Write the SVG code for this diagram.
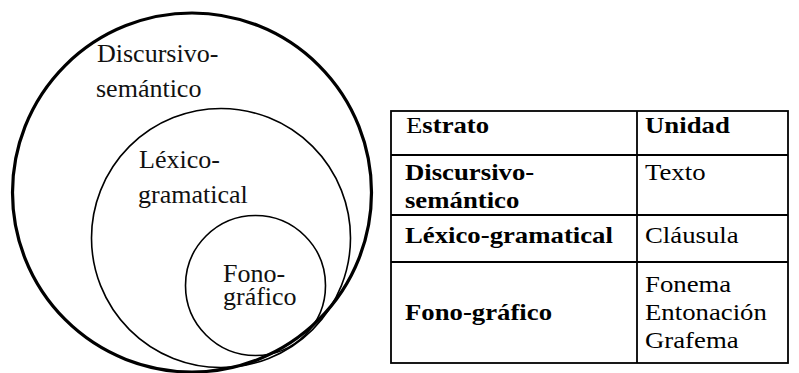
<svg xmlns="http://www.w3.org/2000/svg" width="799" height="373" viewBox="0 0 799 373">
<style>
.c{fill:none;stroke:#000}
.ct{font-family:'Liberation Serif',Tinos,'Noto Serif','DejaVu Serif',FreeSerif,Times,Georgia,serif;font-size:26px;fill:#111}
.t{font-family:'Liberation Serif',Tinos,'Noto Serif','DejaVu Serif',FreeSerif,Times,Georgia,serif;font-size:24px;fill:#000}
.b{font-weight:bold}
.ln{stroke:#000;stroke-width:1.8;fill:none}
</style>
<rect width="799" height="373" fill="#fff"/>
<g id="outer">
<circle class="c" cx="192" cy="192.5" r="179.5" stroke-width="3.2"/>
<text class="ct" x="97" y="62">Discursivo-</text>
<text class="ct" x="96" y="97">semántico</text>
</g>
<g id="middle">
<circle class="c" cx="221" cy="238" r="129.5" stroke-width="1.6"/>
<text class="ct" x="139" y="168">Léxico-</text>
<text class="ct" x="138" y="203">gramatical</text>
</g>
<g id="inner">
<circle class="c" cx="255.5" cy="285.5" r="70" stroke-width="1.6"/>
<text class="ct" x="223" y="282">Fono-</text>
<text class="ct" x="223" y="305">gráfico</text>
</g>
<g id="table">
<rect class="ln" x="391" y="111" width="397" height="252"/>
<line class="ln" x1="637" y1="111" x2="637" y2="363"/>
<line class="ln" x1="391" y1="155" x2="788" y2="155"/>
<line class="ln" x1="391" y1="215" x2="788" y2="215"/>
<line class="ln" x1="391" y1="262" x2="788" y2="262"/>
<g transform="scale(1.115,1)">
<text class="t" x="364.1" y="133">E<tspan class="b">strato</tspan></text>
<text class="t b" x="578.5" y="133">Unidad</text>
<text class="t b" x="363.2" y="180">Discursivo-</text>
<text class="t b" x="363.2" y="208">semántico</text>
<text class="t" x="578.5" y="180">Texto</text>
<text class="t b" x="363.2" y="243">Léxico-gramatical</text>
<text class="t" x="578.5" y="243">Cláusula</text>
<text class="t b" x="363.2" y="320">Fono-gráfico</text>
<text class="t" x="578.5" y="292">Fonema</text>
<text class="t" x="578.5" y="320">Entonación</text>
<text class="t" x="578.5" y="348">Grafema</text>
</g>
</g>
</svg>
